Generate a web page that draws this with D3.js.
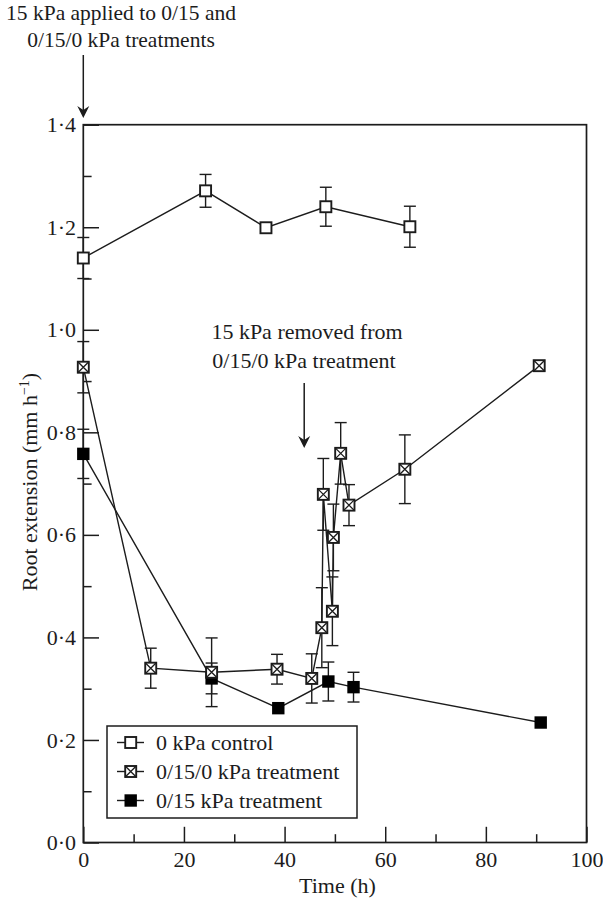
<!DOCTYPE html>
<html>
<head>
<meta charset="utf-8">
<script src="https://cdn.jsdelivr.net/npm/d3@7"></script>
<style>
  html, body { margin: 0; padding: 0; background: #fff; }
  svg { display: block; }
  text { font-family: "Liberation Serif", "DejaVu Serif", serif; fill: #1c1c1c; }
</style>
</head>
<body>
<svg id="chart" width="603" height="899"></svg>
<script>
// ---- data ----
const controlTime  = [0, 24.3, 36.3, 48.2, 64.9];
const controlValue = [1.14, 1.271, 1.199, 1.240, 1.201];
const controlError = [0.04, 0.032, 0, 0.038, 0.04];

const treatTime  = [0, 13.4, 25.5, 38.5, 45.4, 47.4, 47.7, 49.5, 49.7, 51.15, 52.8, 63.9, 90.6];
const treatValue = [0.927, 0.340, 0.332, 0.338, 0.320, 0.419, 0.679, 0.451, 0.595, 0.759, 0.658, 0.728, 0.930];
const treatError = [0.05, 0.039, 0.067, 0.029, 0.048, 0.078, 0.07, 0.067, 0.065, 0.06, 0.04, 0.067, 0];

const stressTime  = [0, 25.5, 38.75, 48.7, 53.7, 90.9];
const stressValue = [0.758, 0.320, 0.262, 0.314, 0.303, 0.234];
const stressError = [0.048, 0.03, 0, 0.038, 0.029, 0];

const xTicks = [0, 20, 40, 60, 80, 100];
const xTickLabels = ["0", "20", "40", "60", "80", "100"];
const xMinorTicks = [10, 30, 50, 70, 90];
const yTicks = [0, 0.2, 0.4, 0.6, 0.8, 1.0, 1.2, 1.4];
const yTickLabels = ["0·0", "0·2", "0·4", "0·6", "0·8", "1·0", "1·2", "1·4"];
const yMinorTicks = [0.1, 0.3, 0.5, 0.7, 0.9, 1.1, 1.3];

const legendLabels = ["0 kPa control", "0/15/0 kPa treatment", "0/15 kPa treatment"];
const annotationTop = ["15 kPa applied to 0/15 and", "0/15/0 kPa treatments"];
const annotationMid = ["15 kPa removed from", "0/15/0 kPa treatment"];
const removalTime = 43.9;

// ---- layout ----
const svg = d3.select("#chart");
const pLeft = 83.3, pRight = 586.5, pTop = 124.7, pBottom = 842.5;
const x = d3.scaleLinear().domain([0, 100]).range([pLeft, pRight]);
const y = d3.scaleLinear().domain([0, 1.4]).range([pBottom, pTop]);
const ink = "#1c1c1c";

// axes (inward ticks)
const gx = svg.append("g").attr("transform", `translate(0,${pBottom})`);
gx.append("g").call(d3.axisBottom(x).tickValues(xMinorTicks).tickFormat("").tickSizeInner(-8.3).tickSizeOuter(0));
gx.append("g").call(d3.axisBottom(x).tickValues(xTicks).tickFormat((d, i) => xTickLabels[i]).tickSizeInner(-15.7).tickSizeOuter(0).tickPadding(8.6));
const gy = svg.append("g").attr("transform", `translate(${pLeft},0)`);
gy.append("g").call(d3.axisLeft(y).tickValues(yMinorTicks).tickFormat("").tickSizeInner(-8.3).tickSizeOuter(0));
gy.append("g").call(d3.axisLeft(y).tickValues(yTicks).tickFormat((d, i) => yTickLabels[i]).tickSizeInner(-15.7).tickSizeOuter(0).tickPadding(7.3));
svg.selectAll(".domain").remove();
svg.selectAll(".tick line").attr("stroke", ink).attr("stroke-width", 1.5);
svg.selectAll(".tick text").attr("font-size", 22).attr("font-family", "Liberation Serif").attr("fill", ink);

// frame
svg.append("rect").attr("x", pLeft).attr("y", pTop).attr("width", pRight - pLeft).attr("height", pBottom - pTop)
  .attr("fill", "none").attr("stroke", ink).attr("stroke-width", 1.7);

// axis titles
svg.append("text").attr("x", x(50.5)).attr("y", 893).attr("text-anchor", "middle").attr("font-size", 22).text("Time (h)");
const yl = svg.append("text").attr("transform", `translate(36.5,482) rotate(-90)`).attr("text-anchor", "middle").attr("font-size", 22);
yl.append("tspan").text("Root extension (mm h");
yl.append("tspan").attr("font-size", 14).attr("dy", -8).text("−1");
yl.append("tspan").attr("dy", 8).text(")");

// series
function mk(t, v, e) { return t.map((d, i) => ({ t: d, v: v[i], e: e[i] })); }
const series = [
  { key: "stress",  data: mk(stressTime, stressValue, stressError) },
  { key: "control", data: mk(controlTime, controlValue, controlError) },
  { key: "treat",   data: mk(treatTime, treatValue, treatError) }
];
const line = d3.line().x(d => x(d.t)).y(d => y(d.v));

series.forEach(s => {
  svg.append("path").datum(s.data).attr("d", line).attr("fill", "none").attr("stroke", ink).attr("stroke-width", 1.4);
});
const capW = 6;
series.forEach(s => {
  const eb = svg.append("g").attr("stroke", ink).attr("stroke-width", 1.4);
  s.data.filter(d => d.e > 0).forEach(d => {
    eb.append("line").attr("x1", x(d.t)).attr("x2", x(d.t)).attr("y1", y(d.v - d.e)).attr("y2", y(d.v + d.e));
    eb.append("line").attr("x1", x(d.t) - capW).attr("x2", x(d.t) + capW).attr("y1", y(d.v + d.e)).attr("y2", y(d.v + d.e));
    eb.append("line").attr("x1", x(d.t) - capW).attr("x2", x(d.t) + capW).attr("y1", y(d.v - d.e)).attr("y2", y(d.v - d.e));
  });
});

function drawMarker(g, cx, cy, kind) {
  if (kind === "stress") {
    g.append("rect").attr("x", cx - 6.2).attr("y", cy - 6.2).attr("width", 12.4).attr("height", 12.4).attr("fill", "#000");
  } else {
    const h = 5.5;
    g.append("rect").attr("x", cx - h).attr("y", cy - h).attr("width", 2 * h).attr("height", 2 * h)
      .attr("fill", "#fff").attr("stroke", ink).attr("stroke-width", 1.9);
    if (kind === "treat") {
      g.append("path").attr("d", `M${cx - h},${cy - h}L${cx + h},${cy + h}M${cx + h},${cy - h}L${cx - h},${cy + h}`)
        .attr("stroke", ink).attr("stroke-width", 1.3).attr("fill", "none");
    }
  }
}
series.forEach(s => {
  const g = svg.append("g");
  s.data.forEach(d => drawMarker(g, x(d.t), y(d.v), s.key));
});

// legend
const lg = svg.append("g");
lg.append("rect").attr("x", 107).attr("y", 726).attr("width", 250).attr("height", 92)
  .attr("fill", "#fff").attr("stroke", ink).attr("stroke-width", 1.5);
const legendKinds = ["control", "treat", "stress"];
legendLabels.forEach((lab, i) => {
  const cy = 742.5 + i * 29;
  lg.append("line").attr("x1", 117).attr("x2", 144).attr("y1", cy).attr("y2", cy).attr("stroke", ink).attr("stroke-width", 1.4);
  drawMarker(lg, 130.7, cy, legendKinds[i]);
  lg.append("text").attr("x", 156).attr("y", cy + 7.5).attr("font-size", 22).text(lab);
});

// annotations
function arrow(ax, y0, tip) {
  svg.append("line").attr("x1", ax).attr("x2", ax).attr("y1", y0).attr("y2", tip - 6).attr("stroke", ink).attr("stroke-width", 1.5);
  svg.append("path").attr("d", `M${ax},${tip}L${ax - 6},${tip - 12}L${ax},${tip - 8}L${ax + 6},${tip - 12}Z`).attr("fill", ink);
}
annotationTop.forEach((t, i) => {
  svg.append("text").attr("x", 121).attr("y", 19.5 + i * 27.5).attr("text-anchor", "middle").attr("font-size", 21.5).text(t);
});
arrow(x(0), 55, 118);
annotationMid.forEach((t, i) => {
  svg.append("text").attr("x", i === 0 ? 307 : 304).attr("y", 338.5 + i * 29).attr("text-anchor", "middle").attr("font-size", 22).text(t);
});
arrow(x(removalTime), 383, 448);
</script>
</body>
</html>
